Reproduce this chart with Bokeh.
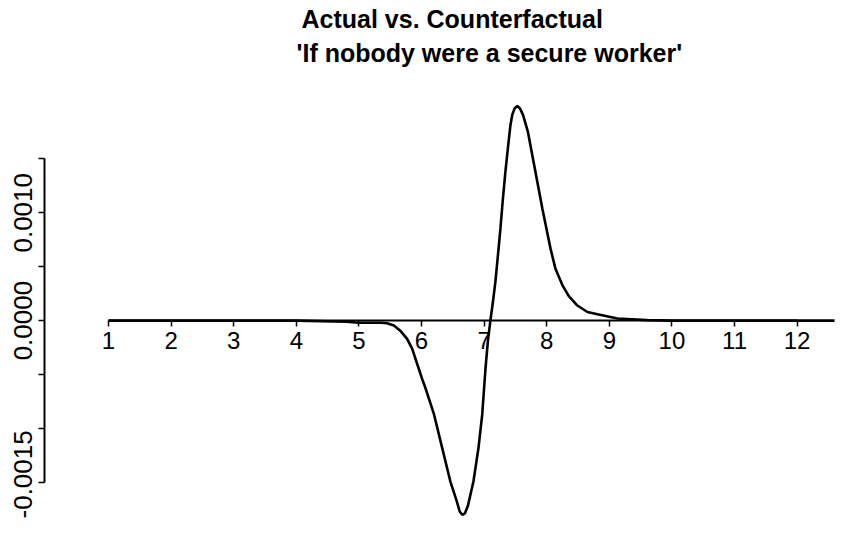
from bokeh.plotting import figure
from bokeh.models import FixedTicker, Range1d, Title
from bokeh.embed import file_html
from bokeh.resources import INLINE

title_line1 = "Actual vs. Counterfactual"
title_line2 = "'If nobody were a secure worker'"

# curve: difference actual - counterfactual
x_vals = [1.0, 2.0, 3.0, 4.0, 4.8, 5.0, 5.2, 5.35, 5.45, 5.56, 5.66, 5.77, 5.85, 5.93,
          6.01, 6.06, 6.2, 6.33, 6.46, 6.56, 6.61, 6.65, 6.69, 6.74, 6.83, 6.91, 6.97,
          7.02, 7.06, 7.1, 7.14, 7.18, 7.22, 7.26, 7.3, 7.34, 7.38, 7.42, 7.45, 7.49,
          7.53, 7.57, 7.62, 7.7, 7.8, 7.93, 8.06, 8.14, 8.25, 8.35, 8.49, 8.65, 8.81,
          9.13, 9.6, 10.0, 11.0, 12.0, 13.0]
y_vals = [0.0, 0.0, 0.0, 0.0, -0.00001, -0.00002, -0.00002, -0.00002, -0.000025,
          -0.000046, -0.000093, -0.00017, -0.00026, -0.00040, -0.00054, -0.00062,
          -0.00087, -0.00118, -0.00149, -0.00167, -0.00177, -0.00180, -0.00179, -0.00172,
          -0.00149, -0.00118, -0.00087, -0.00046, -0.00019, 0.0, 0.00017, 0.00036,
          0.00060, 0.00085, 0.00113, 0.00138, 0.00160, 0.00181, 0.00191, 0.00197,
          0.00199, 0.00197, 0.00191, 0.00175, 0.00144, 0.00104, 0.00067, 0.00048,
          0.00033, 0.00023, 0.00014, 0.00008, 0.00006, 0.00002, 0.000005, 0.0, 0.0,
          0.0, 0.0]

x_ticks = [1, 2, 3, 4, 5, 6, 7, 8, 9, 10, 11, 12]
y_ticks = [-0.0015, -0.001, -0.0005, 0.0, 0.0005, 0.001, 0.0015]
y_tick_labels = ["-0.0015", "", "", "0.0000", "", "0.0010", ""]

p = figure(width=836, height=518, output_backend="svg", toolbar_location=None,
           x_range=Range1d(-0.0224, 12.597), y_range=Range1d(-0.001835, 0.002338),
           min_border_left=44, min_border_right=2, min_border_top=0, min_border_bottom=0)
p.outline_line_color = None
p.xgrid.visible = False
p.ygrid.visible = False
p.background_fill_color = "white"
p.border_fill_color = "white"

xa = p.xaxis[0]
xa.fixed_location = 0
xa.ticker = FixedTicker(ticks=x_ticks)
xa.bounds = (1, 12)
xa.axis_line_width = 2
xa.axis_line_color = "black"
xa.major_tick_line_width = 1.5
xa.major_tick_out = 6
xa.major_tick_in = 0
xa.minor_tick_line_color = None
xa.major_label_text_font = "Liberation Sans"
xa.major_label_text_font_size = "24px"
xa.major_label_text_color = "black"
xa.major_label_standoff = 5

ya = p.yaxis[0]
ya.ticker = FixedTicker(ticks=y_ticks)
ya.major_label_overrides = dict(zip(y_ticks, y_tick_labels))
ya.major_label_orientation = "vertical"
ya.bounds = (-0.0015, 0.0015)
ya.axis_line_width = 2
ya.axis_line_color = "black"
ya.major_tick_line_width = 1.5
ya.major_tick_out = 6
ya.major_tick_in = 0
ya.minor_tick_line_color = None
ya.major_label_text_font = "Liberation Sans"
ya.major_label_text_font_size = "26px"
ya.major_label_text_color = "black"
ya.major_label_standoff = 6

t2 = Title(text=title_line2, align="left", offset=252, text_font="Liberation Sans",
           text_font_size="25px", text_font_style="bold", text_color="black", standoff=4)
p.add_layout(t2, "above")
t1 = Title(text=title_line1, align="left", offset=257, text_font="Liberation Sans",
           text_font_size="25px", text_font_style="bold", text_color="black", standoff=4)
p.add_layout(t1, "above")

p.line(x_vals, y_vals, line_width=2.6, line_color="black")

open("out.html", "w").write(file_html(p, INLINE))
